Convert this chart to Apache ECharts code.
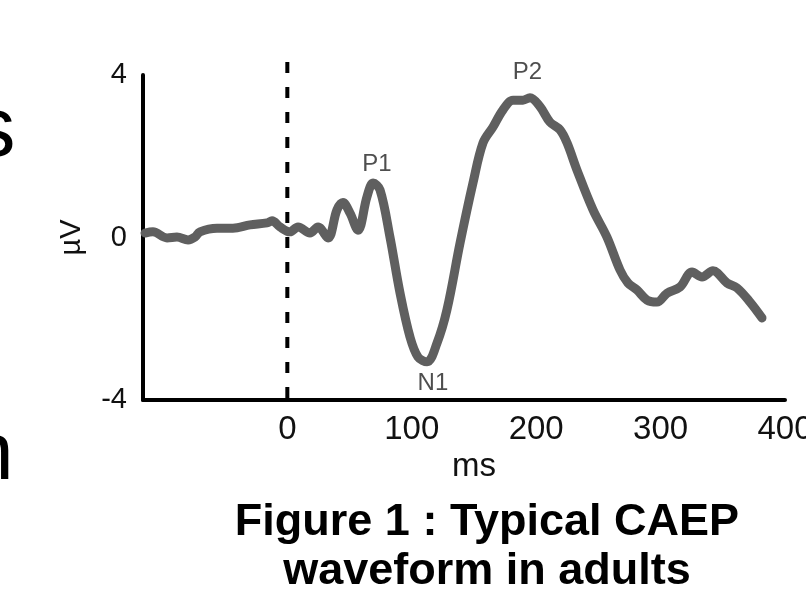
<!DOCTYPE html>
<html>
<head>
<meta charset="utf-8">
<script src="https://cdn.jsdelivr.net/npm/echarts@6/dist/echarts.min.js"></script>
<style>
  html, body { margin: 0; padding: 0; background: #fff; }
  #chart { width: 806px; height: 616px; }
</style>
</head>
<body>
<div id="chart"></div>
<script>
// waveform (ms, µV)
var timeMs = [-114.4, -108, -96.7, -88.7, -79.8, -74.2, -70.2, -56.5, -43.7, -30, -16.3, -12.3, -5.9, 2.1, 8.6,
  18.2, 24.7, 32.7, 39.9, 44.7, 50.4, 56.8, 64, 68.9, 74.5, 82.5, 90.6, 98.6, 105, 112.3, 120.3, 128.3,
  138.8, 149.2, 157.3, 165.3, 173.3, 181.4, 189.4, 195, 203.1, 211.1, 219.2, 224.8, 232.8, 245.7, 256.9,
  267.4, 273.8, 281, 289.1, 297.1, 305.2, 315.6, 325.3, 333.3, 342.1, 353.4, 361.4, 371.9, 381.5];
var amplitudeUv = [0.11, 0.14, -0.01, 0.01, -0.06, 0.01, 0.14, 0.23, 0.23, 0.31, 0.36, 0.41, 0.26, 0.14, 0.26,
  0.11, 0.26, -0.01, 0.68, 0.86, 0.6, 0.18, 1.0, 1.34, 1.17, 0.01, -1.37, -2.45, -2.94, -3.06, -2.6, -1.78,
  -0.14, 1.34, 2.33, 2.72, 3.14, 3.38, 3.38, 3.44, 3.22, 2.84, 2.65, 2.33, 1.66, 0.68, 0.01,
  -0.8, -1.12, -1.29, -1.54, -1.59, -1.37, -1.22, -0.85, -0.97, -0.82, -1.12, -1.24, -1.59, -1.98];

var xTickValues = [0, 100, 200, 300, 400];
var yTickValues = [-4, 0, 4];

// stimulus onset (dashed line)
var onsetMs = [0, 0];
var onsetUv = [4.32, -4];

// peak labels
var peakNames = ['P1', 'P2', 'N1'];
var peakMs = [72, 193, 117];
var peakUv = [1.81, 4.07, -3.58];

var chart = echarts.init(document.getElementById('chart'));

var wave = timeMs.map(function (t, i) { return [t, amplitudeUv[i]]; });
var onset = onsetMs.map(function (t, i) { return [t, onsetUv[i]]; });
var peaks = peakNames.map(function (n, i) { return { name: n, value: [peakMs[i], peakUv[i]] }; });

var fontMain = "'Liberation Sans', Arial, sans-serif";

chart.setOption({
  backgroundColor: '#ffffff',
  animation: false,
  title: {
    text: 'Figure 1 : Typical CAEP\nwaveform in adults',
    left: 482,
    top: 493,
    textAlign: 'center',
    textStyle: {
      fontFamily: fontMain,
      fontWeight: 'bold',
      fontSize: 45,
      lineHeight: 49,
      color: '#000'
    }
  },
  graphic: [
    { type: 'text', left: -27, top: 90, style: { text: 's', font: '85px "Liberation Sans", Arial', fill: '#000' } },
    { type: 'text', left: -32, top: 415, style: { text: 'n', font: '82px "Liberation Sans", Arial', fill: '#000' } }
  ],
  grid: { left: 143, right: 21, top: 75, bottom: 216, containLabel: false, outerBoundsMode: 'none' },
  xAxis: {
    type: 'value',
    min: -116,
    max: 400,
    splitLine: { show: false },
    axisTick: { show: false },
    axisLine: { onZero: false, lineStyle: { color: '#000', width: 4 } },
    axisLabel: {
      customValues: xTickValues,
      margin: 13,
      fontFamily: fontMain,
      fontSize: 33,
      color: '#111'
    },
    name: 'ms',
    nameLocation: 'middle',
    nameGap: 48,
    nameTextStyle: { fontFamily: fontMain, fontSize: 33, color: '#111', padding: [0, 0, 0, 20] }
  },
  yAxis: {
    type: 'value',
    min: -4,
    max: 4,
    splitLine: { show: false },
    axisTick: { show: false },
    axisLine: { onZero: false, lineStyle: { color: '#000', width: 4 } },
    axisLabel: {
      customValues: yTickValues,
      margin: 16,
      fontFamily: fontMain,
      fontSize: 29,
      color: '#111'
    },
    name: 'µV',
    nameLocation: 'middle',
    nameRotate: 90,
    nameGap: 57,
    nameTextStyle: { fontFamily: fontMain, fontSize: 29, color: '#111' }
  },
  series: [
    {
      type: 'line',
      data: onset,
      clip: false,
      showSymbol: false,
      silent: true,
      lineStyle: { color: '#000', width: 4, type: [11, 14] },
      z: 1
    },
    {
      type: 'line',
      data: wave,
      smooth: 0.35,
      showSymbol: false,
      clip: false,
      lineStyle: { color: '#5f5f5f', width: 9, cap: 'round', join: 'round' },
      z: 2
    },
    {
      type: 'scatter',
      data: peaks,
      symbolSize: 0,
      clip: false,
      label: {
        show: true,
        position: 'inside',
        formatter: '{b}',
        fontFamily: fontMain,
        fontSize: 24,
        color: '#222'
      },
      z: 3
    }
  ]
});
</script>
</body>
</html>
